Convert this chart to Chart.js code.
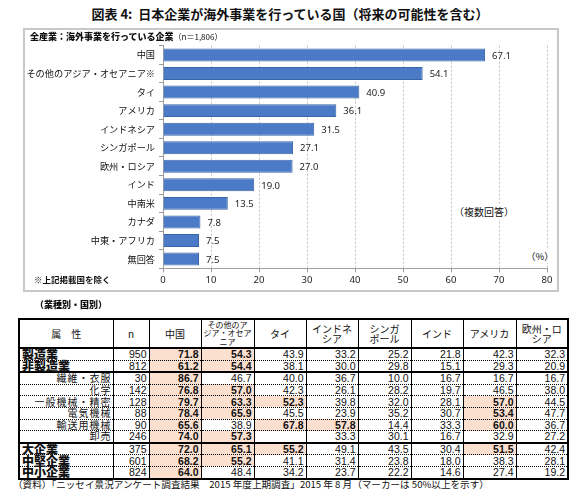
<!DOCTYPE html>
<html lang="ja">
<head>
<meta charset="utf-8">
<script src="https://cdn.jsdelivr.net/npm/chart.js@4.4.0/dist/chart.umd.min.js"></script>
<style>
  body { margin: 0; width: 580px; height: 496px; background: #fff; position: relative; overflow: hidden;
         font-family: "Noto Sans CJK JP", "Noto Sans", sans-serif; color: #111; }
  .abs { position: absolute; white-space: nowrap; }
  #title { left: 0; top: 4px; width: 580px; text-align: center; font-size: 13px; font-weight: 700; }
  #box { left: 23px; top: 28px; width: 532px; height: 260px; border: 2px solid #c8c8c8; }
  #chart { position: absolute; left: 26px; top: 30px; }
  #sub { left: 30px; top: 30px; font-size: 9px; }
  #sub b { font-weight: 900; }
  #sub span { font-size: 8px; }
  #multi { left: 452px; top: 204px; font-size: 10px; background: #fff; padding: 0 2px; }
  #pct { left: 524px; top: 249px; font-size: 9.5px; background: #fff; padding: 0 2px; }
  #note { left: 34px; top: 273px; font-size: 8.5px; font-weight: 700; }
  #sect { left: 35px; top: 298px; font-size: 9px; font-weight: 900; }
  #src { left: 13px; top: 477px; font-size: 9.6px; }

  table { position: absolute; left: 18px; top: 318px; width: 549px; border-collapse: collapse; table-layout: fixed;
          border: 2px solid #000; font-family: "Liberation Sans", Arial, sans-serif; }
  th { height: 27px; border: 1px solid #000; border-bottom: 2px solid #000; font-weight: 400; font-size: 10px;
       font-family: "Noto Sans CJK JP", sans-serif; line-height: 10px; padding: 0; }
  th.small { font-size: 8px; line-height: 8.5px; }
  td { height: 10.6px; padding: 0 2px 0 0; border-left: 1px solid #000; border-right: 1px solid #000;
       border-bottom: 1px dotted #000; text-align: right; font-size: 10.5px; line-height: 10px; }
  td.lab { font-family: "Noto Sans CJK JP", sans-serif; font-size: 10px; letter-spacing: 1px; padding-right: 1px; }
  td.grp { text-align: left; font-weight: 900; font-size: 12px; letter-spacing: 0; padding-left: 2px; }
  td.hi { background: #fbe0d0; font-weight: 700; }
  tr.end td { border-bottom: 2px solid #000; }
</style>
</head>
<body>
<div id="title" class="abs">図表 4:&nbsp; 日本企業が海外事業を行っている国（将来の可能性を含む）</div>
<div id="box" class="abs"></div>
<canvas id="chart" width="530" height="259"></canvas>
<div id="sub" class="abs"><b>全産業：海外事業を行っている企業</b><span>（n＝1,806）</span></div>
<div id="multi" class="abs">（複数回答）</div>
<div id="pct" class="abs">（%）</div>
<div id="note" class="abs">※上記掲載国を除く</div>
<div id="sect" class="abs">（業種別・国別）</div>
<table id="tbl"></table>
<div id="src" class="abs">（資料）「ニッセイ景況アンケート調査結果　2015 年度上期調査」2015 年 8 月（マーカーは 50%以上を示す）</div>

<script>
// chart data
const categories = ['中国', 'その他のアジア・オセアニア※', 'タイ', 'アメリカ', 'インドネシア', 'シンガポール',
                    '欧州・ロシア', 'インド', '中南米', 'カナダ', '中東・アフリカ', '無回答'];
const shares = [67.1, 54.1, 40.9, 36.1, 31.5, 27.1, 27.0, 19.0, 13.5, 7.8, 7.5, 7.5];
const xMin = 0, xMax = 80, xStep = 10;

// table data
const colHeads = ['中国', 'その他のア<br>ジア・オセア<br>ニア', 'タイ', 'インドネ<br>シア', 'シンガ<br>ポール', 'インド', 'アメリカ', '欧州・ロ<br>シア'];
const rowLabels = ['製造業', '非製造業', '繊維・衣服', '化学', '一般機械・精密', '電気機械', '輸送用機械', '卸売', '大企業', '中堅企業', '中小企業'];
const groupRows = [0, 1, 8, 9, 10];
const groupEnds = [1, 7];
const rowN = [950, 812, 30, 142, 128, 88, 90, 246, 375, 601, 824];
const colChina     = [71.8, 61.2, 86.7, 76.8, 79.7, 78.4, 65.6, 74.0, 72.0, 68.2, 64.0];
const colOtherAsia = [54.3, 54.4, 46.7, 57.0, 63.3, 65.9, 38.9, 57.3, 65.1, 55.2, 48.4];
const colThai      = [43.9, 38.1, 40.0, 42.3, 52.3, 45.5, 67.8, null, 55.2, 41.1, 34.2];
const colIndonesia = [33.2, 30.0, 36.7, 26.1, 39.8, 23.9, 57.8, 33.3, 49.1, 31.4, 23.7];
const colSingapore = [25.2, 29.8, 10.0, 28.2, 32.0, 35.2, 14.4, 30.1, 43.5, 23.8, 22.2];
const colIndia     = [21.8, 15.1, 16.7, 19.7, 28.1, 30.7, 33.3, 16.7, 30.4, 18.0, 14.6];
const colUSA       = [42.3, 29.3, 16.7, 46.5, 57.0, 53.4, 60.0, 32.9, 51.5, 38.3, 27.4];
const colEurope    = [32.3, 20.9, 16.7, 38.0, 44.5, 47.7, 36.7, 27.2, 42.4, 28.1, 19.2];
const markThreshold = 50;

function buildTable() {
    const cols = [colChina, colOtherAsia, colThai, colIndonesia, colSingapore, colIndia, colUSA, colEurope];
    const widths = [94, 36, 52, 53, 52, 52, 53, 52, 53, 52];
    let html = '<colgroup>' + widths.map(w => `<col style="width:${w}px">`).join('') + '</colgroup>';
    html += '<tr><th>属　性</th><th>n</th>' +
        colHeads.map((h, i) => `<th class="${i === 1 ? 'small' : ''}">${h}</th>`).join('') + '</tr>';
    rowLabels.forEach((lab, r) => {
        const grp = groupRows.includes(r);
        html += `<tr class="${groupEnds.includes(r) ? 'end' : ''}">`;
        html += `<td class="lab ${grp ? 'grp' : ''}">${lab}</td><td>${rowN[r]}</td>`;
        cols.forEach(c => {
            const v = c[r];
            const hi = v !== null && v >= markThreshold;
            html += `<td class="${hi ? 'hi' : ''}">${v === null ? '' : v.toFixed(1)}</td>`;
        });
        html += '</tr>';
    });
    document.getElementById('tbl').innerHTML = html;
}

const valueLabels = {
    id: 'valueLabels',
    afterDatasetsDraw(chart) {
        const ctx = chart.ctx;
        const meta = chart.getDatasetMeta(0);
        ctx.save();
        ctx.font = '9.5px "Noto Sans", sans-serif';
        ctx.fillStyle = '#222';
        ctx.textBaseline = 'middle';
        meta.data.forEach((bar, i) => {
            ctx.fillText(shares[i].toFixed(1), bar.x + 7, bar.y + 1);
        });
        ctx.restore();
    }
};

function drawChart() {
    const ctx = document.getElementById('chart').getContext('2d');
    new Chart(ctx, {
        type: 'bar',
        data: {
            labels: categories,
            datasets: [{
                data: shares,
                backgroundColor: '#4b7bc6',
                borderColor: '#3a64a8',
                borderWidth: 1,
                barPercentage: 0.7,
                categoryPercentage: 1
            }]
        },
        options: {
            indexAxis: 'y',
            responsive: false,
            animation: false,
            devicePixelRatio: 1,
            layout: { padding: { top: 15.7, right: 9, left: 0, bottom: 0 } },
            plugins: { legend: { display: false }, tooltip: { enabled: false } },
            scales: {
                x: {
                    min: xMin, max: xMax,
                    ticks: { stepSize: xStep, color: '#222', padding: 2, font: { size: 9.5, family: '"Noto Sans", sans-serif' } },
                    grid: { color: '#c4c4c4', tickLength: 4, tickColor: '#999' },
                    border: { color: '#a0a0a0', dash: [2, 2] },
                    afterFit: s => { s.height = 20.7; }
                },
                y: {
                    ticks: { color: '#111', padding: 4, font: { size: 9.2, family: '"Noto Sans CJK JP", sans-serif' } },
                    grid: { drawOnChartArea: false, tickLength: 4, color: '#999' },
                    border: { color: '#a0a0a0' },
                    afterFit: s => { s.width = 137; }
                }
            }
        },
        plugins: [valueLabels]
    });
}

buildTable();
drawChart();
</script>
</body>
</html>
